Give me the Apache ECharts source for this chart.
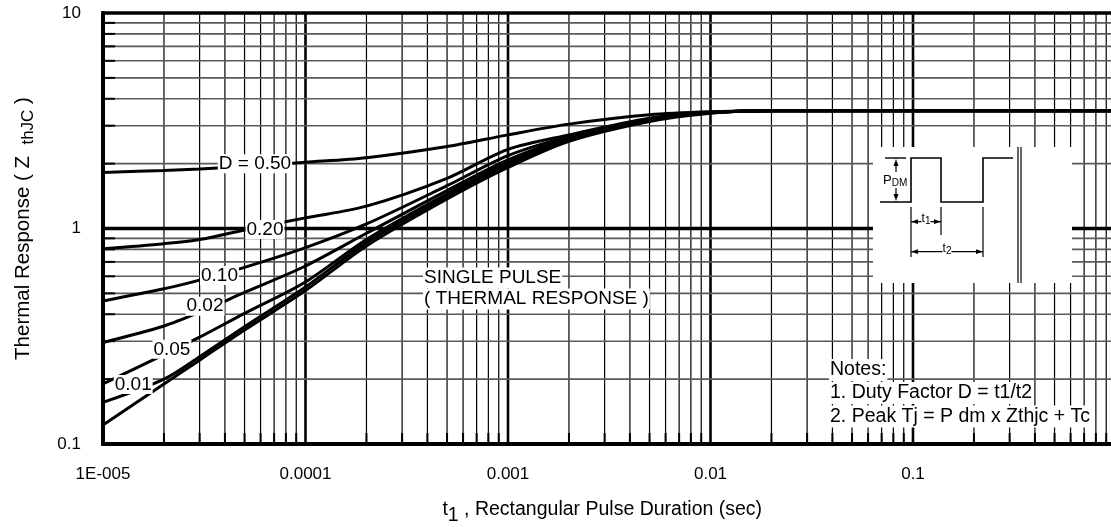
<!DOCTYPE html>
<html>
<head>
<meta charset="utf-8">
<script src="https://cdn.jsdelivr.net/npm/echarts@6/dist/echarts.min.js"></script>
<style>
html, body { margin: 0; padding: 0; background: #fff; }
#chart { width: 1111px; height: 527px; }
</style>
</head>
<body>
<div id="chart"></div>
<script>
// Rectangular pulse duration t1 (s) at which every curve is sampled
const pulseTime = [1e-5, 2e-5, 3e-5, 5e-5, 1e-4, 2e-4, 5e-4, 1e-3, 2e-3, 5e-3, 1e-2, 2e-2, 1];

// Normalized thermal response Z thJC for each duty factor
const zD050   = [1.82, 1.86, 1.89, 1.94, 2.03, 2.13, 2.40, 2.72, 3.05, 3.37, 3.48, 3.52, 3.52];
const zD020   = [0.805, 0.85, 0.889, 0.985, 1.12, 1.27, 1.71, 2.33, 2.72, 3.25, 3.46, 3.52, 3.52];
const zD010   = [0.461, 0.525, 0.576, 0.66, 0.815, 1.05, 1.58, 2.18, 2.67, 3.22, 3.45, 3.52, 3.52];
const zD002   = [0.296, 0.353, 0.409, 0.505, 0.67, 0.95, 1.50, 2.08, 2.63, 3.20, 3.45, 3.52, 3.52];
const zD005   = [0.190, 0.260, 0.313, 0.404, 0.565, 0.89, 1.45, 2.02, 2.60, 3.18, 3.44, 3.52, 3.52];
const zD001   = [0.156, 0.200, 0.254, 0.35, 0.535, 0.86, 1.41, 1.97, 2.57, 3.16, 3.44, 3.52, 3.52];
const zSingle = [0.1225, 0.19, 0.245, 0.338, 0.515, 0.83, 1.37, 1.92, 2.54, 3.14, 3.43, 3.52, 3.52];

// Curve tags as printed on the chart
const curveTags = ['D = 0.50', '0.20', '0.10', '0.02', '0.05', '0.01'];

// Decade tick labels
const xTickLabels = ['1E-005', '0.0001', '0.001', '0.01', '0.1', ''];
const yTickLabels = ['0.1', '1', '10'];

const FONT = "'Liberation Sans', Arial, Helvetica, sans-serif";

// Log-paper grid: minor lines at 2..9 of every decade, heavy lines at decades
const gridItems = [];
for (let e = -5; e < 0; e++) {
  for (let m = 2; m <= 9; m++) gridItems.push([m * Math.pow(10, e), 1, 0]);
  if (e > -5) gridItems.push([Math.pow(10, e), 1, 1]);
}
for (let e = -1; e < 1; e++) {
  for (let m = 2; m <= 9; m++) gridItems.push([1e-3, m * Math.pow(10, e), 2]);
}
gridItems.push([1e-3, 1, 3]);

function renderGrid(params, api) {
  const cs = params.coordSys;
  const kind = api.value(2);
  const p = api.coord([api.value(0), api.value(1)]);
  const top = cs.y, bottom = cs.y + cs.height, left = cs.x, right = cs.x + cs.width;
  if (kind < 2) {
    const x = p[0];
    const children = [{
      type: 'line',
      shape: { x1: x, y1: top, x2: x, y2: bottom },
      style: { stroke: '#000', lineWidth: kind === 1 ? 2.6 : 1.2 }
    }];
    if (kind === 0) {
      children.push({
        type: 'line',
        shape: { x1: x, y1: bottom - 11, x2: x, y2: bottom },
        style: { stroke: '#000', lineWidth: 2 }
      });
    }
    return { type: 'group', children };
  }
  const y = p[1];
  const children = [{
    type: 'line',
    shape: { x1: left, y1: y, x2: right, y2: y },
    style: { stroke: kind === 3 ? '#000' : '#5a5a5a', lineWidth: kind === 3 ? 3.3 : 1.6 }
  }];
  if (kind === 2) {
    children.push({
      type: 'line',
      shape: { x1: left, y1: y, x2: left + 12, y2: y },
      style: { stroke: '#000', lineWidth: 2 }
    });
  }
  return { type: 'group', children };
}

function curve(name, values, tag, at) {
  const s = {
    name: name,
    type: 'line',
    data: pulseTime.map((t, i) => [t, values[i]]),
    symbol: 'none',
    smooth: 0.3,
    lineStyle: { color: '#000', width: 3 },
    z: 3,
    silent: true
  };
  if (tag) {
    s.markPoint = {
      symbol: 'circle',
      symbolSize: 0,
      silent: true,
      data: [{ coord: at, value: tag }],
      label: {
        show: true,
        position: 'inside',
        formatter: tag,
        color: '#000',
        fontSize: 19,
        fontFamily: FONT,
        backgroundColor: '#fff',
        padding: [0, 1]
      }
    };
  }
  return s;
}

function txt(x, y, text, size, extra) {
  return Object.assign({
    type: 'text',
    x: x, y: y, z: 100,
    style: {
      text: text,
      font: size + 'px ' + FONT,
      fill: '#000',
      verticalAlign: 'middle',
      backgroundColor: '#fff',
      padding: [1, 1]
    }
  }, extra || {});
}
function seg(x1, y1, x2, y2, w) {
  return { type: 'line', z: 100, shape: { x1, y1, x2, y2 }, style: { stroke: '#000', lineWidth: w || 1.2 } };
}
function tri(points) {
  return { type: 'polygon', z: 100, shape: { points }, style: { fill: '#000' } };
}

const chart = echarts.init(document.getElementById('chart'), null, { renderer: 'canvas' });

chart.setOption({
  animation: false,
  backgroundColor: '#fff',
  grid: {
    left: 103, top: 13, width: 1012.5, height: 431,
    outerBoundsMode: 'none', containLabel: false,
    show: true, borderColor: '#000', borderWidth: 3.5
  },
  xAxis: {
    type: 'log', logBase: 10, min: 1e-5, max: 1, splitNumber: 5,
    axisLine: { lineStyle: { color: '#000', width: 4 } },
    axisTick: { show: false },
    splitLine: { show: false },
    axisLabel: {
      color: '#000', fontSize: 17, fontFamily: FONT, margin: 22,
      formatter: v => xTickLabels[Math.round(Math.log10(v)) + 5]
    },
    name: 't{s|1} , Rectangular Pulse Duration (sec)',
    nameLocation: 'middle',
    nameGap: 50,
    nameTextStyle: {
      color: '#000', fontSize: 19.5, fontFamily: FONT, padding: [0, 14, 0, 0],
      rich: { s: { color: '#000', fontSize: 19.5, fontFamily: FONT, padding: [12, 0, 0, 0] } }
    }
  },
  yAxis: {
    type: 'log', logBase: 10, min: 0.1, max: 10, splitNumber: 2,
    axisLine: { lineStyle: { color: '#000', width: 4 } },
    axisTick: { show: false },
    splitLine: { show: false },
    axisLabel: {
      color: '#000', fontSize: 17, fontFamily: FONT, margin: 22,
      formatter: v => yTickLabels[Math.round(Math.log10(v)) + 1]
    },
    name: 'Thermal Response ( Z  {s|thJC} )',
    nameLocation: 'middle',
    nameGap: 66,
    nameTextStyle: {
      color: '#000', fontSize: 20.5, fontFamily: FONT,
      rich: { s: { color: '#000', fontSize: 17, fontFamily: FONT, padding: [10, 0, 0, 0] } }
    }
  },
  series: [
    {
      type: 'custom',
      coordinateSystem: 'cartesian2d',
      data: gridItems,
      encode: { x: 0, y: 1 },
      renderItem: renderGrid,
      clip: false,
      silent: true,
      z: 1
    },
    curve('D = 0.50', zD050, curveTags[0], [5.63e-5, 2.0]),
    curve('D = 0.20', zD020, curveTags[1], [6.31e-5, 0.99]),
    curve('D = 0.10', zD010, curveTags[2], [3.76e-5, 0.606]),
    curve('0.02', zD002, curveTags[3], [3.19e-5, 0.436]),
    curve('0.05', zD005, curveTags[4], [2.19e-5, 0.275]),
    curve('0.01', zD001, curveTags[5], [1.41e-5, 0.189]),
    curve('Single pulse', zSingle, null, null)
  ],
  graphic: [
    txt(423, 278, 'SINGLE PULSE', 19),
    txt(423, 299, '( THERMAL RESPONSE )', 19),
    txt(829, 370, 'Notes:', 19.5),
    txt(829, 393, '1. Duty Factor D = t1/t2', 19.5),
    txt(829, 416.5, '2. Peak Tj = P dm x Zthjc + Tc', 19.5),
    // pulse-train inset
    { type: 'rect', z: 99, shape: { x: 873, y: 147, width: 199, height: 136 }, style: { fill: '#fff' } },
    { type: 'polyline', z: 100,
      shape: { points: [[880, 202], [911, 202], [911, 158], [941, 158], [941, 202], [983, 202], [983, 158], [1013, 158]] },
      style: { stroke: '#000', lineWidth: 1.6, fill: null } },
    seg(885, 158, 906, 158, 1.4),
    seg(896, 165, 896, 195, 1.2),
    tri([[896, 159], [893.5, 166], [898.5, 166]]),
    tri([[896, 201], [893.5, 194], [898.5, 194]]),
    { type: 'text', x: 883, y: 180, z: 101,
      style: { text: '{p|P}{s|DM}', fill: '#000', verticalAlign: 'middle', backgroundColor: '#fff',
        rich: { p: { fontSize: 13, fontFamily: FONT }, s: { fontSize: 10, fontFamily: FONT, padding: [6, 0, 0, 0] } } } },
    seg(911, 207, 911, 257),
    seg(941, 207, 941, 235),
    seg(983, 207, 983, 257),
    seg(911, 221.7, 941, 221.7),
    tri([[911, 221.7], [918, 219.3], [918, 224.1]]),
    tri([[941, 221.7], [934, 219.3], [934, 224.1]]),
    { type: 'text', x: 926, y: 219, z: 101,
      style: { text: '{p|t}{s|1}', fill: '#000', align: 'center', verticalAlign: 'middle', backgroundColor: '#fff',
        rich: { p: { fontSize: 12, fontFamily: FONT }, s: { fontSize: 10, fontFamily: FONT, padding: [5, 0, 0, 0] } } } },
    seg(911, 251.7, 983, 251.7),
    tri([[911, 251.7], [918, 249.3], [918, 254.1]]),
    tri([[983, 251.7], [976, 249.3], [976, 254.1]]),
    { type: 'text', x: 947, y: 249, z: 101,
      style: { text: '{p|t}{s|2}', fill: '#000', align: 'center', verticalAlign: 'middle', backgroundColor: '#fff',
        rich: { p: { fontSize: 12, fontFamily: FONT }, s: { fontSize: 10, fontFamily: FONT, padding: [5, 0, 0, 0] } } } },
    seg(1018, 147, 1018, 283, 1.2),
    seg(1021, 147, 1021, 283, 1.2)
  ]
});
</script>
</body>
</html>
